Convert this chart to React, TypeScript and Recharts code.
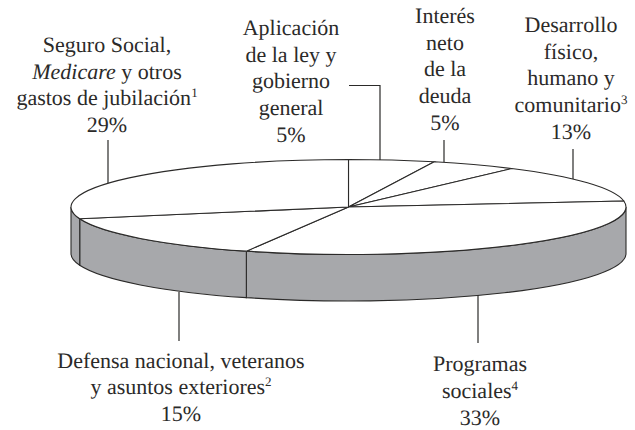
import { Pie, PieChart } from "recharts";

const categories = [
	"Aplicación de la ley y gobierno general",
	"Interés neto de la deuda",
	"Desarrollo físico, humano y comunitario",
	"Programas sociales",
	"Defensa nacional, veteranos y asuntos exteriores",
	"Seguro Social, Medicare y otros gastos de jubilación",
];
const shares = [5, 5, 13, 33, 15, 29];

const chartData = categories.map((name, index) => ({
	name,
	value: shares[index],
}));

const TILT = 0.1712;
const RIM_HEIGHT = 46.5;
const INK = "#2b2a29";
const RIM_FILL = "#a7a8ab";

type TextPart = { text: string; italic?: boolean; sup?: boolean };
type LabelLine = TextPart[];

const labels: { x: number; y: number; gap: number; lines: LabelLine[] }[] = [
	{
		x: 107,
		y: 52,
		gap: 26.7,
		lines: [
			[{ text: "Seguro Social," }],
			[{ text: "Medicare", italic: true }, { text: " y otros" }],
			[{ text: "gastos de jubilación" }, { text: "1", sup: true }],
			[{ text: "29%" }],
		],
	},
	{
		x: 291,
		y: 35,
		gap: 26.7,
		lines: [
			[{ text: "Aplicación" }],
			[{ text: "de la ley y" }],
			[{ text: "gobierno" }],
			[{ text: "general" }],
			[{ text: "5%" }],
		],
	},
	{
		x: 445,
		y: 23,
		gap: 26.7,
		lines: [
			[{ text: "Interés" }],
			[{ text: "neto" }],
			[{ text: "de la" }],
			[{ text: "deuda" }],
			[{ text: "5%" }],
		],
	},
	{
		x: 571,
		y: 32,
		gap: 26.7,
		lines: [
			[{ text: "Desarrollo" }],
			[{ text: "físico," }],
			[{ text: "humano y" }],
			[{ text: "comunitario" }, { text: "3", sup: true }],
			[{ text: "13%" }],
		],
	},
	{
		x: 181,
		y: 368,
		gap: 26.4,
		lines: [
			[{ text: "Defensa nacional, veteranos" }],
			[{ text: "y asuntos exteriores" }, { text: "2", sup: true }],
			[{ text: "15%" }],
		],
	},
	{
		x: 480,
		y: 371,
		gap: 27,
		lines: [
			[{ text: "Programas" }],
			[{ text: "sociales" }, { text: "4", sup: true }],
			[{ text: "33%" }],
		],
	},
];

const leaders = [
	"M108 140V183",
	"M349 85.5H380V160",
	"M444 140V162",
	"M573 149V179",
	"M179 292V341",
	"M478 295V343",
];

function EllipseSector(props: any) {
	const { cx, cy, outerRadius, startAngle, endAngle } = props;
	const rx = outerRadius;
	const ry = outerRadius * TILT;
	const point = (angle: number, drop = 0) => {
		const rad = (angle * Math.PI) / 180;
		return `${cx + rx * Math.cos(rad)} ${cy - ry * Math.sin(rad) + drop}`;
	};
	const large = Math.abs(startAngle - endAngle) > 180 ? 1 : 0;
	const top = `M${cx} ${cy}L${point(startAngle)}A${rx} ${ry} 0 ${large} 1 ${point(endAngle)}Z`;

	// only the part of the edge facing the viewer gets a rim
	const rimStart = Math.min(startAngle, 0);
	const rimEnd = Math.max(endAngle, -180);
	const hasRim = rimStart > rimEnd;
	const rim = `M${point(rimStart)}A${rx} ${ry} 0 0 1 ${point(rimEnd)}L${point(rimEnd, RIM_HEIGHT)}A${rx} ${ry} 0 0 0 ${point(rimStart, RIM_HEIGHT)}Z`;

	return (
		<g>
			{hasRim && (
				<path d={rim} fill={RIM_FILL} stroke={INK} strokeWidth={1.1} />
			)}
			<path d={top} fill="#ffffff" stroke={INK} strokeWidth={1.1} />
		</g>
	);
}

export default function App() {
	return (
		<div
			style={{
				position: "absolute",
				left: 0,
				top: 0,
				width: 635,
				height: 430,
				background: "#ffffff",
			}}
		>
			<PieChart
				width={635}
				height={430}
				margin={{ top: 0, right: 0, bottom: 0, left: 0 }}
			>
				<Pie
					data={chartData}
					dataKey="value"
					nameKey="name"
					cx={348.5}
					cy={207}
					outerRadius={277.5}
					startAngle={90}
					endAngle={-270}
					stroke="none"
					shape={EllipseSector}
					isAnimationActive={false}
				/>
			</PieChart>
			<svg
				width={635}
				height={430}
				style={{ position: "absolute", left: 0, top: 0, pointerEvents: "none" }}
			>
				{leaders.map((d) => (
					<path key={d} d={d} fill="none" stroke={INK} strokeWidth={1.2} />
				))}
				{labels.map((label) =>
					label.lines.map((line, lineIndex) => (
						<text
							key={`${label.x}-${lineIndex}`}
							x={label.x}
							y={label.y + lineIndex * label.gap}
							textAnchor="middle"
							textRendering="geometricPrecision"
							fontFamily="'Liberation Serif', serif"
							fontSize={22}
							fill={INK}
						>
							{line.map((part) =>
								part.sup ? (
									<tspan key={part.text} fontSize={13} dy={-8}>
										{part.text}
									</tspan>
								) : (
									<tspan
										key={part.text}
										fontStyle={part.italic ? "italic" : "normal"}
									>
										{part.text}
									</tspan>
								),
							)}
						</text>
					)),
				)}
			</svg>
		</div>
	);
}
